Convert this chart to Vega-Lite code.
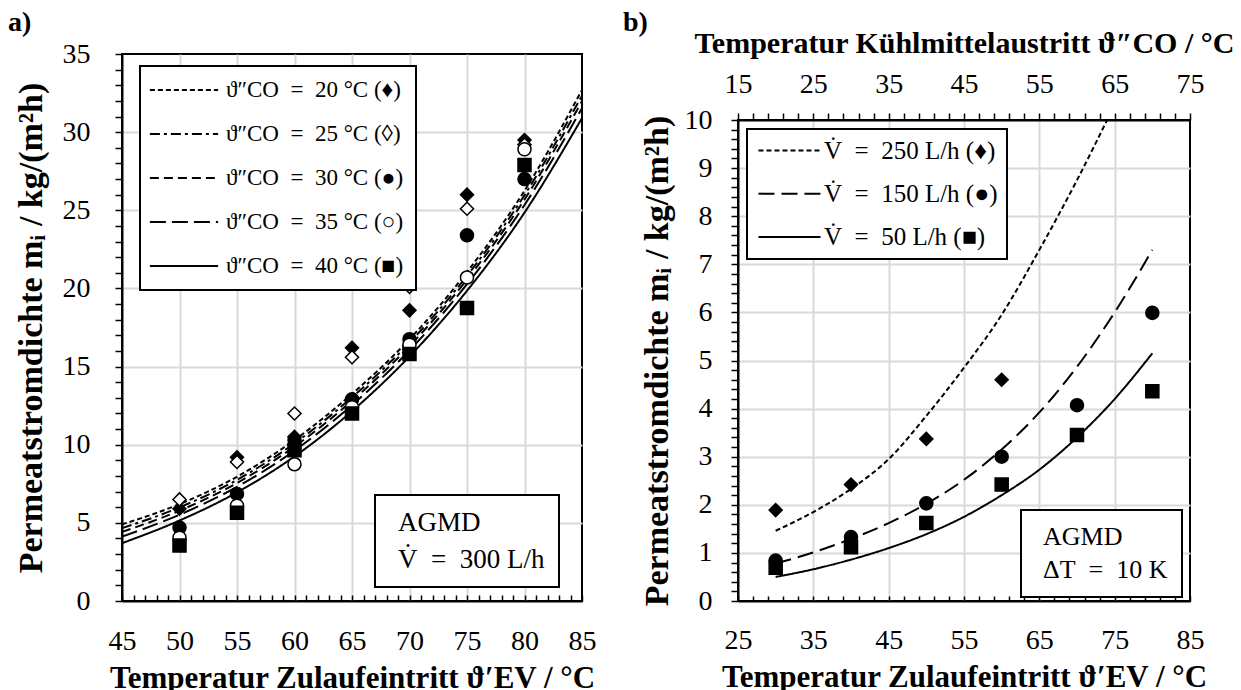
{
  "$schema": "https://vega.github.io/schema/vega-lite/v6.json",
  "background": "white",
  "padding": {"left": 6, "top": 7, "right": 5, "bottom": 0},
  "config": {
    "font": "Liberation Serif",
    "view": {"stroke": "black", "strokeWidth": 2},
    "axis": {
      "labelFont": "Liberation Serif", "labelFontSize": 28, "labelColor": "black",
      "titleFont": "Liberation Serif", "titleFontSize": 31, "titleFontWeight": "bold", "titleColor": "black",
      "domainColor": "black", "domainWidth": 2, "tickColor": "black", "tickWidth": 1.5,
      "gridColor": "#d9d9d9", "gridWidth": 2, "labelOverlap": false, "labelFlush": false, "labelBound": false
    },
    "legend": {
      "labelFont": "Liberation Serif", "labelColor": "black", "labelLimit": 500,
      "strokeColor": "black", "strokeWidth": 2, "fillColor": "white", "title": null
    },
    "title": {"font": "Liberation Serif", "fontSize": 28, "fontWeight": "bold", "color": "black", "anchor": "start", "frame": "bounds"},
    "concat": {"spacing": 24}
  },
  "resolve": {"scale": {"strokeDash": "independent", "shape": "independent", "fill": "independent", "color": "independent"}},
  "hconcat": [
    {
      "spacing": 0,
      "resolve": {"scale": {"strokeDash": "independent", "shape": "independent", "fill": "independent", "color": "independent"}},
      "vconcat": [
        {"width": 1, "height": 1, "data": {"values": []}, "mark": "point", "view": {"stroke": null}},
        {
          "width": 460, "height": 547,
          "title": {"text": "a)", "offset": 3, "dx": -6},
          "encoding": {
            "x": {"field": "T", "type": "quantitative",
              "scale": {"domain": [45, 85], "nice": false, "zero": false},
              "axis": {
                "values": [45,46,47,48,49,50,51,52,53,54,55,56,57,58,59,60,61,62,63,64,65,66,67,68,69,70,71,72,73,74,75,76,77,78,79,80,81,82,83,84,85],
                "labelExpr": "datum.value % 5 === 0 ? datum.value + '' : ''",
                "tickSize": -6, "labelPadding": 32.5,
                "gridOpacity": {"condition": {"test": "datum.value % 5 === 0 && datum.value > 45 && datum.value < 85", "value": 1}, "value": 0},
                "title": "Temperatur Zulaufeintritt ϑ′EV / °C", "titlePadding": 8
              }
            },
            "y": {"field": "m", "type": "quantitative",
              "scale": {"domain": [0, 35], "nice": false},
              "axis": {
                "values": [0,1,2,3,4,5,6,7,8,9,10,11,12,13,14,15,16,17,18,19,20,21,22,23,24,25,26,27,28,29,30,31,32,33,34,35],
                "labelExpr": "datum.value % 5 === 0 ? datum.value + '' : ''",
                "tickSize": 7, "labelPadding": 25,
                "gridOpacity": {"condition": {"test": "datum.value % 5 === 0 && datum.value > 0 && datum.value < 35", "value": 1}, "value": 0},
                "title": "Permeatstromdichte mᵢ / kg/(m²h)", "titlePadding": 14, "titleFontSize": 34
              }
            }
          },
          "layer": [
            {
              "data": {"values": [
                {"c": "20", "T": 45, "m": 4.90}, {"c": "20", "T": 50, "m": 6.20}, {"c": "20", "T": 55, "m": 7.95}, {"c": "20", "T": 60, "m": 10.30}, {"c": "20", "T": 65, "m": 13.25}, {"c": "20", "T": 70, "m": 16.75}, {"c": "20", "T": 75, "m": 21.05}, {"c": "20", "T": 80, "m": 26.25}, {"c": "20", "T": 85, "m": 32.70},
                {"c": "25", "T": 45, "m": 4.66}, {"c": "25", "T": 50, "m": 5.99}, {"c": "25", "T": 55, "m": 7.75}, {"c": "25", "T": 60, "m": 10.09}, {"c": "25", "T": 65, "m": 13.03}, {"c": "25", "T": 70, "m": 16.53}, {"c": "25", "T": 75, "m": 20.81}, {"c": "25", "T": 80, "m": 25.97}, {"c": "25", "T": 85, "m": 32.34},
                {"c": "30", "T": 45, "m": 4.42}, {"c": "30", "T": 50, "m": 5.78}, {"c": "30", "T": 55, "m": 7.55}, {"c": "30", "T": 60, "m": 9.88}, {"c": "30", "T": 65, "m": 12.81}, {"c": "30", "T": 70, "m": 16.31}, {"c": "30", "T": 75, "m": 20.57}, {"c": "30", "T": 80, "m": 25.69}, {"c": "30", "T": 85, "m": 31.98},
                {"c": "35", "T": 45, "m": 4.12}, {"c": "35", "T": 50, "m": 5.52}, {"c": "35", "T": 55, "m": 7.30}, {"c": "35", "T": 60, "m": 9.62}, {"c": "35", "T": 65, "m": 12.54}, {"c": "35", "T": 70, "m": 16.04}, {"c": "35", "T": 75, "m": 20.27}, {"c": "35", "T": 80, "m": 25.34}, {"c": "35", "T": 85, "m": 31.53},
                {"c": "40", "T": 45, "m": 3.70}, {"c": "40", "T": 50, "m": 5.15}, {"c": "40", "T": 55, "m": 6.95}, {"c": "40", "T": 60, "m": 9.25}, {"c": "40", "T": 65, "m": 12.15}, {"c": "40", "T": 70, "m": 15.65}, {"c": "40", "T": 75, "m": 19.85}, {"c": "40", "T": 80, "m": 24.85}, {"c": "40", "T": 85, "m": 30.90}
              ]},
              "mark": {"type": "line", "interpolate": "monotone", "color": "black", "strokeWidth": 2},
              "encoding": {
                "strokeDash": {"field": "c", "type": "nominal",
                  "scale": {"domain": ["20", "25", "30", "35", "40"], "range": [[5, 3], [10, 4, 3, 4], [9, 5], [16, 6], [1, 0]]},
                  "legend": {
                    "orient": "none", "legendX": 18, "legendY": 12,
                    "symbolType": "M-3.1,0L3.1,0", "symbolSize": 484, "symbolStrokeWidth": 2, "symbolStrokeColor": "black",
                    "symbolOffset": 20, "labelOffset": 30, "padding": 12, "rowPadding": 20,
                    "labelFontSize": 23,
                    "labelExpr": "'ϑ″CO\u2002=\u2002' + datum.label + ' °C (' + (datum.label == '20' ? '♦' : datum.label == '25' ? '◊' : datum.label == '30' ? '●' : datum.label == '35' ? '○' : '■') + ')'"
                  }
                }
              }
            },
            {
              "data": {"values": [
                {"s": "20", "T": 50, "m": 5.9}, {"s": "20", "T": 55, "m": 9.2}, {"s": "20", "T": 60, "m": 10.5}, {"s": "20", "T": 65, "m": 16.2}, {"s": "20", "T": 70, "m": 18.6}, {"s": "20", "T": 75, "m": 26.0}, {"s": "20", "T": 80, "m": 29.5},
                {"s": "25", "T": 50, "m": 6.5}, {"s": "25", "T": 55, "m": 8.9}, {"s": "25", "T": 60, "m": 12.0}, {"s": "25", "T": 65, "m": 15.6}, {"s": "25", "T": 70, "m": 20.1}, {"s": "25", "T": 75, "m": 25.1}, {"s": "25", "T": 80, "m": 29.2},
                {"s": "30", "T": 50, "m": 4.7}, {"s": "30", "T": 55, "m": 6.85}, {"s": "30", "T": 60, "m": 10.3}, {"s": "30", "T": 65, "m": 12.9}, {"s": "30", "T": 70, "m": 16.75}, {"s": "30", "T": 75, "m": 23.4}, {"s": "30", "T": 80, "m": 27.0},
                {"s": "35", "T": 50, "m": 4.05}, {"s": "35", "T": 55, "m": 6.1}, {"s": "35", "T": 60, "m": 8.75}, {"s": "35", "T": 65, "m": 12.4}, {"s": "35", "T": 70, "m": 16.4}, {"s": "35", "T": 75, "m": 20.7}, {"s": "35", "T": 80, "m": 28.9},
                {"s": "40", "T": 50, "m": 3.55}, {"s": "40", "T": 55, "m": 5.65}, {"s": "40", "T": 60, "m": 9.65}, {"s": "40", "T": 65, "m": 12.0}, {"s": "40", "T": 70, "m": 15.8}, {"s": "40", "T": 75, "m": 18.75}, {"s": "40", "T": 80, "m": 27.9}
              ]},
              "mark": {"type": "point", "size": 170, "stroke": "black", "strokeWidth": 1.5, "opacity": 1},
              "encoding": {
                "shape": {"field": "s", "type": "nominal", "scale": {"domain": ["20", "30", "40", "25", "35"], "range": ["diamond", "circle", "square", "diamond", "circle"]}, "legend": null},
                "fill": {"field": "s", "type": "nominal", "scale": {"domain": ["25", "35", "20", "30", "40"], "range": ["white", "white", "black", "black", "black"]}, "legend": null}
              }
            },
            {
              "data": {"values": [{"info": "AGMD"}, {"info": "V̇\u2002=\u2002300 L/h"}]},
              "mark": {"type": "point", "opacity": 0},
              "encoding": {
                "color": {"field": "info", "type": "nominal",
                  "scale": {"domain": ["AGMD", "V̇\u2002=\u2002300 L/h"], "range": ["white", "white"]},
                  "legend": {
                    "orient": "none", "legendX": 253, "legendY": 441,
                    "symbolSize": 1, "symbolOpacity": 0, "symbolStrokeWidth": 0,
                    "labelOffset": -18, "padding": 14, "rowPadding": 9, "labelFontSize": 27
                  }
                }
              }
            }
          ]
        }
      ]
    },
    {
      "spacing": 0,
      "resolve": {"scale": {"strokeDash": "independent", "shape": "independent", "fill": "independent", "color": "independent"}},
      "vconcat": [
        {"width": 1, "height": 1, "data": {"values": []}, "mark": "point", "view": {"stroke": null}},
        {
          "width": 452, "height": 481,
          "title": {"text": "b)", "offset": -9, "dx": -17},
          "encoding": {
            "y": {"field": "m", "type": "quantitative",
              "scale": {"domain": [0, 10], "nice": false},
              "axis": {
                "values": [0,0.2,0.4,0.6,0.8,1,1.2,1.4,1.6,1.8,2,2.2,2.4,2.6,2.8,3,3.2,3.4,3.6,3.8,4,4.2,4.4,4.6,4.8,5,5.2,5.4,5.6,5.8,6,6.2,6.4,6.6,6.8,7,7.2,7.4,7.6,7.8,8,8.2,8.4,8.6,8.8,9,9.2,9.4,9.6,9.8,10],
                "labelExpr": "abs(datum.value - round(datum.value)) < 0.01 ? round(datum.value) + '' : ''",
                "tickSize": 7, "labelPadding": 19,
                "gridOpacity": {"condition": {"test": "abs(datum.value - round(datum.value)) < 0.01 && datum.value > 0.5 && datum.value < 9.5", "value": 1}, "value": 0},
                "title": "Permeatstromdichte mᵢ / kg/(m²h)", "titlePadding": 10, "titleFontSize": 34
              }
            }
          },
          "resolve": {"axis": {"x": "independent"}, "scale": {"strokeDash": "independent", "shape": "independent", "color": "independent"}},
          "layer": [
            {
              "data": {"values": [
                {"v": "250", "T": 30, "m": 1.46}, {"v": "250", "T": 35, "m": 1.85}, {"v": "250", "T": 40, "m": 2.33}, {"v": "250", "T": 45, "m": 2.95}, {"v": "250", "T": 50, "m": 3.85}, {"v": "250", "T": 55, "m": 4.85}, {"v": "250", "T": 60, "m": 5.95}, {"v": "250", "T": 65, "m": 7.3}, {"v": "250", "T": 70, "m": 8.75}, {"v": "250", "T": 74, "m": 10.0},
                {"v": "150", "T": 30, "m": 0.78}, {"v": "150", "T": 35, "m": 1.01}, {"v": "150", "T": 40, "m": 1.29}, {"v": "150", "T": 45, "m": 1.62}, {"v": "150", "T": 50, "m": 2.02}, {"v": "150", "T": 55, "m": 2.52}, {"v": "150", "T": 60, "m": 3.15}, {"v": "150", "T": 65, "m": 3.92}, {"v": "150", "T": 70, "m": 4.87}, {"v": "150", "T": 75, "m": 6.0}, {"v": "150", "T": 80, "m": 7.3},
                {"v": "50", "T": 30, "m": 0.50}, {"v": "50", "T": 35, "m": 0.66}, {"v": "50", "T": 40, "m": 0.86}, {"v": "50", "T": 45, "m": 1.10}, {"v": "50", "T": 50, "m": 1.39}, {"v": "50", "T": 55, "m": 1.75}, {"v": "50", "T": 60, "m": 2.2}, {"v": "50", "T": 65, "m": 2.73}, {"v": "50", "T": 70, "m": 3.4}, {"v": "50", "T": 75, "m": 4.2}, {"v": "50", "T": 80, "m": 5.15}
              ]},
              "mark": {"type": "line", "interpolate": "monotone", "color": "black", "strokeWidth": 2},
              "encoding": {
                "x": {"field": "T", "type": "quantitative",
                  "scale": {"domain": [25, 85], "nice": false, "zero": false},
                  "axis": {
                    "orient": "bottom",
                    "values": [25,27,29,31,33,35,37,39,41,43,45,47,49,51,53,55,57,59,61,63,65,67,69,71,73,75,77,79,81,83,85],
                    "labelExpr": "(datum.value - 25) % 10 === 0 ? datum.value + '' : ''",
                    "tickSize": -5, "labelPadding": 30.5,
                    "gridOpacity": {"condition": {"test": "(datum.value - 25) % 10 === 0 && datum.value > 25 && datum.value < 85", "value": 1}, "value": 0},
                    "title": "Temperatur Zulaufeintritt ϑ′EV / °C", "titlePadding": 8
                  }
                },
                "strokeDash": {"field": "v", "type": "nominal",
                  "scale": {"domain": ["250", "150", "50"], "range": [[5, 3], [16, 7], [1, 0]]},
                  "legend": {
                    "orient": "none", "legendX": 9, "legendY": 9,
                    "symbolType": "M-2.82,0L2.82,0", "symbolSize": 484, "symbolStrokeWidth": 2, "symbolStrokeColor": "black",
                    "symbolOffset": 21, "labelOffset": 22, "padding": 9, "rowPadding": 17.2,
                    "labelFontSize": 25,
                    "labelExpr": "'V̇\u2002=\u2002' + datum.label + ' L/h (' + (datum.label == '250' ? '♦' : datum.label == '150' ? '●' : '■') + ')'"
                  }
                }
              }
            },
            {
              "data": {"values": [
                {"s": "250", "T": 30, "m": 1.89}, {"s": "250", "T": 40, "m": 2.42}, {"s": "250", "T": 50, "m": 3.37}, {"s": "250", "T": 60, "m": 4.60},
                {"s": "150", "T": 30, "m": 0.84}, {"s": "150", "T": 40, "m": 1.33}, {"s": "150", "T": 50, "m": 2.03}, {"s": "150", "T": 60, "m": 3.0}, {"s": "150", "T": 70, "m": 4.07}, {"s": "150", "T": 80, "m": 5.99},
                {"s": "50", "T": 30, "m": 0.69}, {"s": "50", "T": 40, "m": 1.12}, {"s": "50", "T": 50, "m": 1.62}, {"s": "50", "T": 60, "m": 2.42}, {"s": "50", "T": 70, "m": 3.45}, {"s": "50", "T": 80, "m": 4.36}
              ]},
              "mark": {"type": "point", "size": 170, "stroke": "black", "strokeWidth": 1.5, "opacity": 1, "fill": "black", "filled": true},
              "encoding": {
                "x": {"field": "T", "type": "quantitative",
                  "scale": {"domain": [25, 85], "nice": false, "zero": false},
                  "axis": {
                    "orient": "top",
                    "values": [25,27,29,31,33,35,37,39,41,43,45,47,49,51,53,55,57,59,61,63,65,67,69,71,73,75,77,79,81,83,85],
                    "labelExpr": "(datum.value - 25) % 10 === 0 ? (datum.value - 10) + '' : ''",
                    "tickSize": 7, "labelPadding": 15, "grid": false,
                    "title": "Temperatur Kühlmittelaustritt ϑ″CO / °C", "titlePadding": 12, "titleFontSize": 30
                  }
                },
                "shape": {"field": "s", "type": "nominal", "scale": {"domain": ["250", "150", "50"], "range": ["diamond", "circle", "square"]}, "legend": null}
              }
            },
            {
              "data": {"values": [{"info": "AGMD"}, {"info": "ΔT\u2002=\u200210 K"}]},
              "mark": {"type": "point", "opacity": 0},
              "encoding": {
                "color": {"field": "info", "type": "nominal",
                  "scale": {"domain": ["AGMD", "ΔT\u2002=\u200210 K"], "range": ["white", "white"]},
                  "legend": {
                    "orient": "none", "legendX": 283, "legendY": 390,
                    "symbolSize": 1, "symbolOpacity": 0, "symbolStrokeWidth": 0,
                    "labelOffset": -18, "padding": 14, "rowPadding": 7, "labelFontSize": 26
                  }
                }
              }
            }
          ]
        }
      ]
    }
  ]
}
